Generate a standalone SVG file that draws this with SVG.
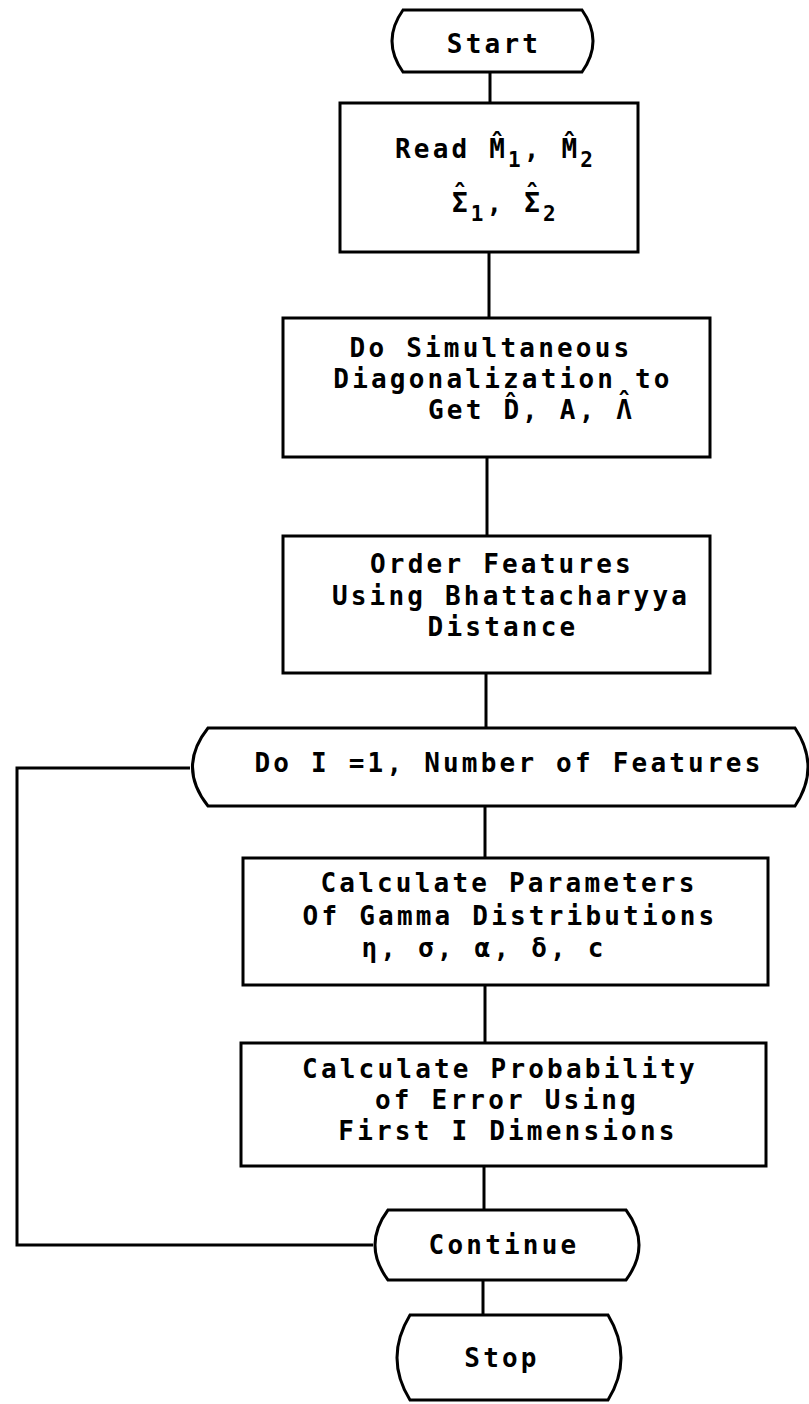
<svg xmlns="http://www.w3.org/2000/svg" width="809" height="1404" viewBox="0 0 809 1404">
<style>
.box{fill:#fff;stroke:#000;stroke-width:3}
.ln{fill:none;stroke:#000;stroke-width:3}
.t{font-family:"DejaVu Sans Mono","Liberation Mono",monospace;font-weight:bold;font-size:26px;letter-spacing:3.2px;text-anchor:middle;fill:#000}
.l{text-anchor:start}
.s{font-size:21px}
.z{letter-spacing:0}
</style>
<rect width="809" height="1404" fill="#fff"/>
<g id="connectors">
<path class="ln" d="M490,72V103"/>
<path class="ln" d="M489,252V318"/>
<path class="ln" d="M487,457V536"/>
<path class="ln" d="M486,673V728"/>
<path class="ln" d="M485,806V858"/>
<path class="ln" d="M485,985V1043"/>
<path class="ln" d="M484,1166V1210"/>
<path class="ln" d="M483,1280V1315"/>
<path class="ln" d="M373,1245H17V768H190"/>
</g>
<g id="start">
<path class="box" d="M403,10H582Q604,41 582,72H403Q381,41 403,10Z"/>
<text class="t" x="494" y="53">Start</text>
</g>
<g id="read">
<rect class="box" x="340" y="103" width="298" height="149"/>
<text class="t l" x="395" y="158">Read <tspan class="z">M̂</tspan><tspan class="s" dx="3" dy="9">1</tspan><tspan dy="-9">, </tspan><tspan class="z">M̂</tspan><tspan class="s" dx="3" dy="9">2</tspan></text>
<text class="t l" x="452" y="212"><tspan class="z">Σ</tspan><tspan class="z" dx="-15.65" dy="-8">ˆ</tspan><tspan class="s" dx="3" dy="17">1</tspan><tspan dy="-9">, </tspan><tspan class="z">Σ</tspan><tspan class="z" dx="-15.65" dy="-8">ˆ</tspan><tspan class="s" dx="3" dy="17">2</tspan></text>
</g>
<g id="diag">
<rect class="box" x="283" y="318" width="427" height="139"/>
<text class="t" x="491" y="357">Do Simultaneous</text>
<text class="t" x="503" y="388">Diagonalization to</text>
<text class="t l" x="428" y="419">Get <tspan class="z">D̂</tspan><tspan dx="3">, A, </tspan><tspan class="z">Λ</tspan><tspan class="z" dx="-15.65" dy="-7">ˆ</tspan></text>
</g>
<g id="order">
<rect class="box" x="283" y="536" width="427" height="137"/>
<text class="t" x="502" y="573">Order Features</text>
<text class="t" x="511" y="605">Using Bhattacharyya</text>
<text class="t" x="503" y="636">Distance</text>
</g>
<g id="doloop">
<path class="box" d="M208,728H795Q821,767 795,806H208Q177,767 208,728Z"/>
<text class="t" x="509" y="772">Do I =1, Number of Features</text>
</g>
<g id="gamma">
<rect class="box" x="243" y="858" width="525" height="127"/>
<text class="t" x="509" y="892">Calculate Parameters</text>
<text class="t" x="510" y="925">Of Gamma Distributions</text>
<text class="t" x="484" y="957">η, σ, α, δ, c</text>
</g>
<g id="prob">
<rect class="box" x="241" y="1043" width="525" height="123"/>
<text class="t" x="500" y="1078">Calculate Probability</text>
<text class="t" x="507" y="1109">of Error Using</text>
<text class="t" x="508" y="1140">First I Dimensions</text>
</g>
<g id="continue">
<path class="box" d="M388,1210H626Q652,1245 626,1280H388Q362,1245 388,1210Z"/>
<text class="t" x="504" y="1254">Continue</text>
</g>
<g id="stop">
<path class="box" d="M410,1315H608Q634,1358 608,1400H410Q384,1358 410,1315Z"/>
<text class="t" x="502" y="1367">Stop</text>
</g>
</svg>
